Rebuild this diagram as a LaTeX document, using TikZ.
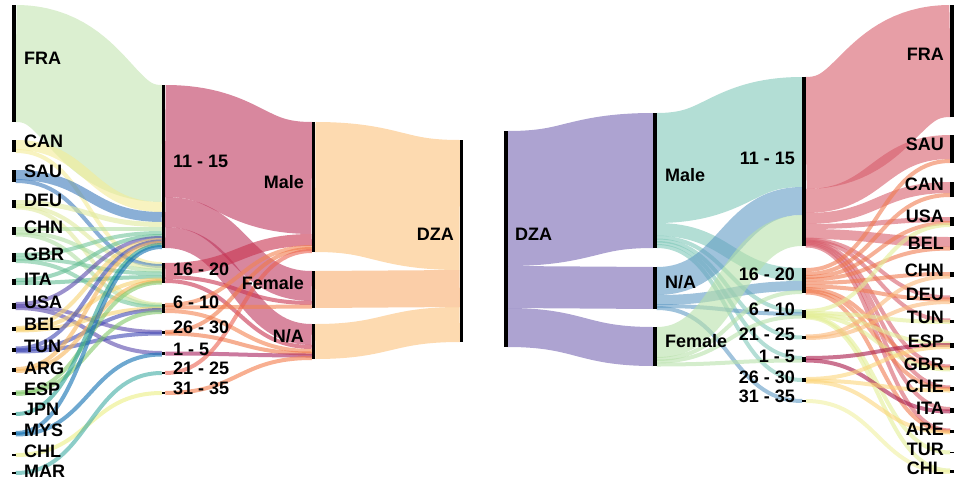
\documentclass[tikz,border=0pt]{standalone}
\usepackage{fontspec}
\setmainfont{Liberation Sans}
% colours (drawn at opacity 0.6)
\definecolor{cFRA}{HTML}{C3E4B1}\definecolor{cCAN}{HTML}{F3EB96}
\definecolor{cSAU}{HTML}{3C7ABB}\definecolor{cDEU}{HTML}{DFE99D}
\definecolor{cCHN}{HTML}{B1DEA3}\definecolor{cGBR}{HTML}{71C59B}
\definecolor{cITA}{HTML}{61BC93}\definecolor{cUSA}{HTML}{5848AC}
\definecolor{cBEL}{HTML}{F7D271}\definecolor{cTUN}{HTML}{3F48B4}
\definecolor{cARG}{HTML}{F7B458}\definecolor{cESP}{HTML}{82C869}
\definecolor{cJPN}{HTML}{26A093}\definecolor{cMYS}{HTML}{0D6EB1}
\definecolor{cCHL}{HTML}{EBEE82}\definecolor{cMAR}{HTML}{3FACA3}
\definecolor{aOneFive}{HTML}{BE375D}\definecolor{aSixTwenty}{HTML}{C8324F}
\definecolor{aSixTen}{HTML}{F38250}\definecolor{aTwentySix}{HTML}{F07848}
\definecolor{aOne}{HTML}{A8205E}\definecolor{aTwentyOne}{HTML}{EB6150}
\definecolor{aThirtyOne}{HTML}{F37A48}
\definecolor{gMale}{HTML}{FCC17B}\definecolor{gFem}{HTML}{F8AD6E}\definecolor{gNA}{HTML}{FCC17B}
\definecolor{rDZA}{HTML}{7666B2}\definecolor{rMale}{HTML}{80C8B9}
\definecolor{rNA}{HTML}{619BC5}\definecolor{rFem}{HTML}{B7E1AA}
\definecolor{rOneFive}{HTML}{D75D6B}\definecolor{rSixTwenty}{HTML}{F07B50}
\definecolor{rSixTen}{HTML}{E3EE96}\definecolor{rTwentyOne}{HTML}{FAB778}
\definecolor{rOne}{HTML}{A81848}\definecolor{rTwentySix}{HTML}{FCD57B}
\definecolor{rThirtyOne}{HTML}{F0F0A0}
% sankey helpers
\newcommand\snode[3]{%
  \expandafter\xdef\csname sx#1\endcsname{#2}%
  \expandafter\xdef\csname st#1\endcsname{#3}%
  \expandafter\xdef\csname so#1\endcsname{#3}%
  \expandafter\xdef\csname si#1\endcsname{#3}}
\newcommand\slink[4]{%
  \pgfmathsetmacro\sya{\csname so#1\endcsname+#3/2}%
  \pgfmathsetmacro\syb{\csname si#2\endcsname+#3/2}%
  \pgfmathsetmacro\sxa{\csname sx#1\endcsname+1.75}%
  \pgfmathsetmacro\sxb{\csname sx#2\endcsname-1.75}%
  \pgfmathsetmacro\sxm{(\sxa+\sxb)/2}%
  \pgfmathsetmacro\slw{max(#3,4)}%
  \draw[flow, line width=\slw pt, draw=#4] (\sxa,\sya) .. controls (\sxm,\sya) and (\sxm,\syb) .. (\sxb,\syb);%
  \pgfmathsetmacro\stmp{\csname so#1\endcsname+#3}%
  \expandafter\xdef\csname so#1\endcsname{\stmp}%
  \pgfmathsetmacro\stmp{\csname si#2\endcsname+#3}%
  \expandafter\xdef\csname si#2\endcsname{\stmp}}
\newcommand\sbar[1]{%
  \pgfmathsetmacro\sbb{max(\csname so#1\endcsname,\csname si#1\endcsname)}%
  \pgfmathsetmacro\sbt{\csname st#1\endcsname}%
  \pgfmathsetmacro\sbl{\csname sx#1\endcsname-1.75}%
  \pgfmathsetmacro\sbr{\csname sx#1\endcsname+1.75}%
  \fill[black] (\sbl,\sbt) rectangle (\sbr,\sbb);}
\begin{document}
\begin{tikzpicture}[x=1pt,y=-1pt,
  flow/.style={draw opacity=0.6},
  lab/.style={font=\bfseries\fontsize{18}{18}\selectfont, inner sep=0pt, text=black}]
\useasboundingbox (0,0) rectangle (956,482);
% ---------------- left sankey nodes
\snode{LFRA}{14}{5}\snode{LCAN}{14}{140}\snode{LSAU}{14}{170}\snode{LDEU}{14}{200}
\snode{LCHN}{14}{227}\snode{LGBR}{14}{253}\snode{LITA}{14}{279}\snode{LUSA}{14}{303}
\snode{LBEL}{14}{327}\snode{LTUN}{14}{348}\snode{LARG}{14}{368}\snode{LESP}{14}{392}
\snode{LJPN}{14}{413}\snode{LMYS}{14}{432}\snode{LCHL}{14}{454}\snode{LMAR}{14}{472}
\snode{La1115}{163.5}{85}\snode{La1620}{163.5}{263}\snode{La0610}{163.5}{304}
\snode{La2630}{163.5}{331}\snode{La0105}{163.5}{352}\snode{La2125}{163.5}{372}
\snode{La3135}{163.5}{392}
\snode{LMale}{313.5}{122}\snode{LFem}{313.5}{271}\snode{LNA}{313.5}{324}
\snode{LDZA}{461.5}{140}
% country -> age
\slink{LFRA}{La1115}{117}{cFRA}
\slink{LCAN}{La1115}{10}{cCAN}\slink{LCAN}{La1620}{2}{cCAN}
\slink{LSAU}{La1115}{10}{cSAU}\slink{LSAU}{La1620}{2}{cSAU}
\slink{LDEU}{La1115}{5}{cDEU}\slink{LDEU}{La1620}{2}{cDEU}\slink{LDEU}{La0610}{1}{cDEU}
\slink{LCHN}{La1115}{4}{cCHN}\slink{LCHN}{La1620}{3}{cCHN}\slink{LCHN}{La0610}{1}{cCHN}
\slink{LGBR}{La1115}{4}{cGBR}\slink{LGBR}{La1620}{3}{cGBR}\slink{LGBR}{La0610}{2}{cGBR}
\slink{LITA}{La1115}{2}{cITA}\slink{LITA}{La1620}{4}{cITA}
\slink{LUSA}{La1115}{2}{cUSA}\slink{LUSA}{La2630}{2}{cUSA}\slink{LUSA}{La0105}{2}{cUSA}
\slink{LBEL}{La1115}{2}{cBEL}\slink{LBEL}{La1620}{1}{cBEL}\slink{LBEL}{La0610}{1}{cBEL}
\slink{LTUN}{La1115}{1}{cTUN}\slink{LTUN}{La0610}{2}{cTUN}\slink{LTUN}{La2630}{1}{cTUN}
\slink{LARG}{La1115}{2}{cARG}\slink{LARG}{La1620}{2}{cARG}
\slink{LESP}{La1620}{1}{cESP}\slink{LESP}{La0610}{2}{cESP}
\slink{LJPN}{La1115}{2}{cJPN}
\slink{LMYS}{La1115}{2}{cMYS}\slink{LMYS}{La0105}{1}{cMYS}
\slink{LCHL}{La3135}{2}{cCHL}
\slink{LMAR}{La2125}{2}{cMAR}
% age -> gender
\slink{La1115}{LMale}{112}{aOneFive}\slink{La1115}{LFem}{30}{aOneFive}\slink{La1115}{LNA}{21}{aOneFive}
\slink{La1620}{LMale}{12}{aSixTwenty}\slink{La1620}{LFem}{4}{aSixTwenty}\slink{La1620}{LNA}{4}{aSixTwenty}
\slink{La0610}{LMale}{2}{aSixTen}\slink{La0610}{LFem}{3}{aSixTen}\slink{La0610}{LNA}{4}{aSixTen}
\slink{La2630}{LMale}{2}{aTwentySix}\slink{La2630}{LNA}{1}{aTwentySix}
\slink{La0105}{LNA}{3}{aOne}
\slink{La2125}{LMale}{2}{aTwentyOne}
\slink{La3135}{LNA}{2}{aThirtyOne}
% gender -> DZA
\slink{LMale}{LDZA}{130}{gMale}\slink{LFem}{LDZA}{37}{gFem}\slink{LNA}{LDZA}{35}{gNA}
% ---------------- right sankey nodes
\snode{RDZA}{506}{131}
\snode{RMale}{655}{113}\snode{RNA}{655}{267}\snode{RFem}{655}{327}
\snode{Ra1115}{804}{77}\snode{Ra1620}{804}{268}\snode{Ra0610}{804}{310}
\snode{Ra2125}{804}{336}\snode{Ra0105}{804}{357}\snode{Ra2630}{804}{378}
\snode{Ra3135}{804}{400}
\snode{RFRA}{952}{5}\snode{RSAU}{952}{135}\snode{RCAN}{952}{182}\snode{RUSA}{952}{217}
\snode{RBEL}{952}{237}\snode{RCHN}{952}{272}\snode{RDEU}{952}{297}\snode{RTUN}{952}{320}
\snode{RESP}{952}{343}\snode{RGBR}{952}{366}\snode{RCHE}{952}{387}\snode{RITA}{952}{408}
\snode{RARE}{952}{430}\snode{RTUR}{952}{452}\snode{RCHL}{952}{470}
% DZA -> gender
\slink{RDZA}{RMale}{135}{rDZA}\slink{RDZA}{RNA}{42}{rDZA}\slink{RDZA}{RFem}{39}{rDZA}
% gender -> age
\slink{RMale}{Ra1115}{110}{rMale}\slink{RMale}{Ra1620}{13}{rMale}\slink{RMale}{Ra0610}{3}{rMale}
\slink{RMale}{Ra2125}{3}{rMale}\slink{RMale}{Ra0105}{2}{rMale}\slink{RMale}{Ra2630}{4}{rMale}
\slink{RNA}{Ra1115}{28}{rNA}\slink{RNA}{Ra1620}{10}{rNA}\slink{RNA}{Ra0610}{2}{rNA}\slink{RNA}{Ra3135}{2}{rNA}
\slink{RFem}{Ra1115}{31}{rFem}\slink{RFem}{Ra1620}{2}{rFem}\slink{RFem}{Ra0610}{3}{rFem}\slink{RFem}{Ra0105}{3}{rFem}
% age -> country
\slink{Ra1115}{RFRA}{112}{rOneFive}\slink{Ra1115}{RSAU}{24}{rOneFive}\slink{Ra1115}{RCAN}{11}{rOneFive}
\slink{Ra1115}{RUSA}{5}{rOneFive}\slink{Ra1115}{RBEL}{10}{rOneFive}\slink{Ra1115}{RDEU}{1}{rOneFive}
\slink{Ra1115}{RTUN}{1}{rOneFive}\slink{Ra1115}{RGBR}{1}{rOneFive}\slink{Ra1115}{RCHE}{1}{rOneFive}
\slink{Ra1115}{RITA}{2}{rOneFive}\slink{Ra1115}{RARE}{1}{rOneFive}
\slink{Ra1620}{RSAU}{4}{rSixTwenty}\slink{Ra1620}{RCAN}{4}{rSixTwenty}\slink{Ra1620}{RUSA}{2}{rSixTwenty}
\slink{Ra1620}{RBEL}{3}{rSixTwenty}\slink{Ra1620}{RCHN}{4}{rSixTwenty}\slink{Ra1620}{RDEU}{3}{rSixTwenty}
\slink{Ra1620}{RGBR}{2}{rSixTwenty}\slink{Ra1620}{RCHE}{2}{rSixTwenty}\slink{Ra1620}{RARE}{1}{rSixTwenty}
\slink{Ra0610}{RUSA}{2}{rSixTen}\slink{Ra0610}{RTUN}{2}{rSixTen}\slink{Ra0610}{RESP}{1}{rSixTen}
\slink{Ra0610}{RGBR}{1}{rSixTen}\slink{Ra0610}{RTUR}{1}{rSixTen}\slink{Ra0610}{RCHL}{1}{rSixTen}
\slink{Ra2125}{RCHN}{1}{rTwentyOne}\slink{Ra2125}{RDEU}{2}{rTwentyOne}
\slink{Ra0105}{RESP}{2}{rOne}\slink{Ra0105}{RITA}{3}{rOne}
\slink{Ra2630}{RESP}{2}{rTwentySix}\slink{Ra2630}{RCHE}{1}{rTwentySix}\slink{Ra2630}{RARE}{1}{rTwentySix}
\slink{Ra3135}{RCHL}{2}{rThirtyOne}
% ---------------- bars
\foreach \n in {LFRA,LCAN,LSAU,LDEU,LCHN,LGBR,LITA,LUSA,LBEL,LTUN,LARG,LESP,LJPN,LMYS,LCHL,LMAR,
  La1115,La1620,La0610,La2630,La0105,La2125,La3135,LMale,LFem,LNA,LDZA,
  RDZA,RMale,RNA,RFem,Ra1115,Ra1620,Ra0610,Ra2125,Ra0105,Ra2630,Ra3135,
  RFRA,RSAU,RCAN,RUSA,RBEL,RCHN,RDEU,RTUN,RESP,RGBR,RCHE,RITA,RARE,RTUR,RCHL}{\sbar{\n}}
% ---------------- labels, left
\node[lab,anchor=west] (tLFRA) at (24,58) {FRA};
\node[lab,anchor=west] (tLCAN) at (24,141) {CAN};
\node[lab,anchor=west] (tLSAU) at (24,171) {SAU};
\node[lab,anchor=west] (tLDEU) at (24,200) {DEU};
\node[lab,anchor=west] (tLCHN) at (24,227) {CHN};
\node[lab,anchor=west] (tLGBR) at (24,254) {GBR};
\node[lab,anchor=west] (tLITA) at (24,279) {ITA};
\node[lab,anchor=west] (tLUSA) at (24,302) {USA};
\node[lab,anchor=west] (tLBEL) at (24,324) {BEL};
\node[lab,anchor=west] (tLTUN) at (24,346) {TUN};
\node[lab,anchor=west] (tLARG) at (24,368) {ARG};
\node[lab,anchor=west] (tLESP) at (24,389) {ESP};
\node[lab,anchor=west] (tLJPN) at (24,409) {JPN};
\node[lab,anchor=west] (tLMYS) at (24,430) {MYS};
\node[lab,anchor=west] (tLCHL) at (24,451) {CHL};
\node[lab,anchor=west] (tLMAR) at (24,471) {MAR};
\node[lab,anchor=west] (tLa1115) at (173,161) {11 - 15};
\node[lab,anchor=west] (tLa1620) at (173,269) {16 - 20};
\node[lab,anchor=west] (tLa0610) at (173,302) {6 - 10};
\node[lab,anchor=west] (tLa2630) at (173,327) {26 - 30};
\node[lab,anchor=west] (tLa0105) at (173,349) {1 - 5};
\node[lab,anchor=west] (tLa2125) at (173,368) {21 - 25};
\node[lab,anchor=west] (tLa3135) at (173,388) {31 - 35};
\node[lab,anchor=east] (tLMale) at (304,182) {Male};
\node[lab,anchor=east] (tLFem) at (304,283) {Female};
\node[lab,anchor=east] (tLNA) at (304,336) {N/A};
\node[lab,anchor=east] (tLDZA) at (454,234) {DZA};
% ---------------- labels, right
\node[lab,anchor=west] (tRDZA) at (515,234) {DZA};
\node[lab,anchor=west] (tRMale) at (665,175) {Male};
\node[lab,anchor=west] (tRNA) at (665,282) {N/A};
\node[lab,anchor=west] (tRFem) at (665,341) {Female};
\node[lab,anchor=east] (tRa1115) at (795,158) {11 - 15};
\node[lab,anchor=east] (tRa1620) at (795,274) {16 - 20};
\node[lab,anchor=east] (tRa0610) at (795,309) {6 - 10};
\node[lab,anchor=east] (tRa2125) at (795,334) {21 - 25};
\node[lab,anchor=east] (tRa0105) at (795,356) {1 - 5};
\node[lab,anchor=east] (tRa2630) at (795,377) {26 - 30};
\node[lab,anchor=east] (tRa3135) at (795,396) {31 - 35};
\node[lab,anchor=east] (tRFRA) at (944,54) {FRA};
\node[lab,anchor=east] (tRSAU) at (944,144) {SAU};
\node[lab,anchor=east] (tRCAN) at (944,184) {CAN};
\node[lab,anchor=east] (tRUSA) at (944,216) {USA};
\node[lab,anchor=east] (tRBEL) at (944,243) {BEL};
\node[lab,anchor=east] (tRCHN) at (944,270) {CHN};
\node[lab,anchor=east] (tRDEU) at (944,294) {DEU};
\node[lab,anchor=east] (tRTUN) at (944,317) {TUN};
\node[lab,anchor=east] (tRESP) at (944,341) {ESP};
\node[lab,anchor=east] (tRGBR) at (944,364) {GBR};
\node[lab,anchor=east] (tRCHE) at (944,386) {CHE};
\node[lab,anchor=east] (tRITA) at (944,408) {ITA};
\node[lab,anchor=east] (tRARE) at (944,429) {ARE};
\node[lab,anchor=east] (tRTUR) at (944,449) {TUR};
\node[lab,anchor=east] (tRCHL) at (944,468) {CHL};
\end{tikzpicture}
\end{document}
